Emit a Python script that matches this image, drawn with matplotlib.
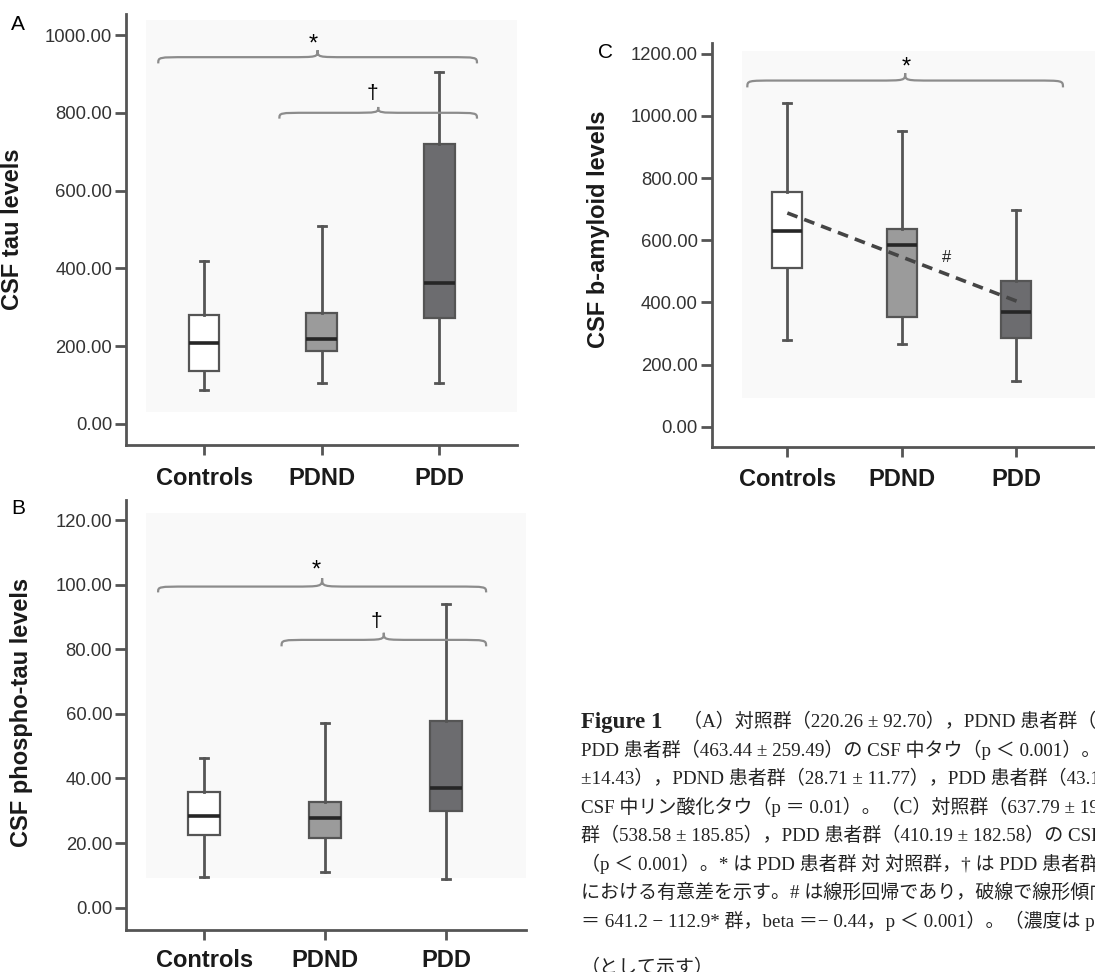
import matplotlib
matplotlib.use("Agg")
import matplotlib.pyplot as plt
from matplotlib.path import Path
from matplotlib.patches import PathPatch, Rectangle

# データ
groups = ['Controls', 'PDND', 'PDD']
box_colors = ['#ffffff', '#9b9b9b', '#6c6c6f']

tau_lo = [88, 105, 105]
tau_q1 = [137, 188, 272]
tau_med = [209, 218, 363]
tau_q3 = [280, 286, 720]
tau_hi = [419, 509, 904]

ptau_lo = [9.6, 11.0, 8.9]
ptau_q1 = [22.5, 21.7, 30.0]
ptau_med = [28.5, 27.9, 37.0]
ptau_q3 = [35.7, 32.8, 57.9]
ptau_hi = [46.4, 57.1, 93.9]

amy_lo = [279, 268, 148]
amy_q1 = [510, 352, 285]
amy_med = [630, 585, 370]
amy_q3 = [755, 635, 470]
amy_hi = [1043, 952, 697]

reg_x = [1.0, 3.05]
reg_y = [688, 398]

caption_lines = [
    "PDD 患者群（463.44 ± 259.49）の CSF 中タウ（p ＜ 0.001）。（B）対照群（29.41",
    "±14.43），PDND 患者群（28.71 ± 11.77），PDD 患者群（43.10 ± 21.09）の",
    "CSF 中リン酸化タウ（p ＝ 0.01）。（C）対照群（637.79 ± 196.23），PDND 患者",
    "群（538.58 ± 185.85），PDD 患者群（410.19 ± 182.58）の CSF 中 b-アミロイド",
    "（p ＜ 0.001）。* は PDD 患者群 対 対照群，† は PDD 患者群 対 PDND 患者群",
    "における有意差を示す。# は線形回帰であり，破線で線形傾向を示す（濃度",
    "＝ 641.2 − 112.9* 群，beta ＝− 0.44，p ＜ 0.001）。（濃度は pg/mL",
]
caption_last = "（として示す）"

SANS = ['Liberation Sans', 'DejaVu Sans']
EDGE = '#555555'

fig = plt.figure(figsize=(10.95, 9.72), dpi=100)


def brace(ax, x0, x1, y, d, w, peak):
    xm = (x0 + x1) / 2
    verts = [(x0, y - d), (x0, y), (x0, y), (x0 + w, y),
             (xm - w, y),
             (xm, y), (xm, y), (xm, y + peak),
             (xm, y), (xm, y), (xm + w, y),
             (x1 - w, y),
             (x1, y), (x1, y), (x1, y - d)]
    codes = [Path.MOVETO, Path.CURVE4, Path.CURVE4, Path.CURVE4,
             Path.LINETO,
             Path.CURVE4, Path.CURVE4, Path.CURVE4,
             Path.CURVE4, Path.CURVE4, Path.CURVE4,
             Path.LINETO,
             Path.CURVE4, Path.CURVE4, Path.CURVE4]
    ax.add_patch(PathPatch(Path(verts, codes), fill=False, edgecolor='#8c8c8c',
                           lw=1.6, clip_on=False, zorder=4))


def panel(rect, lo, q1, med, q3, hi, ylim, yticks, xlim, ylabel, label_xy, shade, xpad=8):
    ax = fig.add_axes(rect)
    ax.add_patch(Rectangle((shade[0], shade[1]), shade[2], shade[3], transform=ax.transAxes,
                           facecolor='#f9f9f9', edgecolor='none', zorder=0))
    stats = []
    for i in range(3):
        stats.append(dict(whislo=lo[i], q1=q1[i], med=med[i], q3=q3[i], whishi=hi[i], fliers=[]))
    bp = ax.bxp(stats, positions=[1, 2, 3], widths=0.26, patch_artist=True, showfliers=False,
                capwidths=0.07,
                boxprops=dict(edgecolor=EDGE, linewidth=1.6),
                medianprops=dict(color='#262626', linewidth=2.6),
                whiskerprops=dict(color=EDGE, linewidth=2),
                capprops=dict(color=EDGE, linewidth=2))
    for patch, c in zip(bp['boxes'], box_colors):
        patch.set_facecolor(c)
        patch.set_zorder(2)
    ax.set_ylim(*ylim)
    ax.set_xlim(*xlim)
    ax.set_yticks(yticks)
    ax.set_yticklabels(['%.2f' % v for v in yticks], fontsize=13.3, family=SANS, color='#333333')
    ax.set_xticks([1, 2, 3])
    ax.set_xticklabels(groups, fontsize=17, fontweight='bold', family=SANS, color='#1a1a1a')
    ax.tick_params(axis='y', direction='out', length=8, width=2, color=EDGE, pad=2)
    ax.tick_params(axis='x', direction='out', length=7.5, width=2, color=EDGE, pad=xpad)
    for s in ['top', 'right']:
        ax.spines[s].set_visible(False)
    for s in ['left', 'bottom']:
        ax.spines[s].set_color(EDGE)
        ax.spines[s].set_linewidth(2)
    ax.set_facecolor('none')
    ax.set_ylabel(ylabel, fontsize=17, fontweight='bold', family=SANS, color='#1a1a1a')
    ax.yaxis.set_label_coords(*label_xy)
    return ax


# A: CSF tau
axA = panel([0.1151, 0.5422, 0.357, 0.4434], tau_lo, tau_q1, tau_med, tau_q3, tau_hi,
            (-54, 1054), [0, 200, 400, 600, 800, 1000], (0.336, 3.66),
            'CSF tau levels', (-0.26, 0.5), (0.05, 0.077, 1.0, 0.91))
brace(axA, 0.61, 3.32, 943, 16, 0.25, 18)
axA.text(1.93, 975, '*', ha='center', va='center', fontsize=17, family=SANS)
brace(axA, 1.64, 3.32, 800, 15, 0.25, 15)
axA.text(2.43, 850, '†', ha='center', va='center', fontsize=15, family=SANS)

# B: CSF phospho-tau
axB = panel([0.1151, 0.0432, 0.3653, 0.4424], ptau_lo, ptau_q1, ptau_med, ptau_q3, ptau_hi,
            (-6.9, 126.2), [0, 20, 40, 60, 80, 100, 120], (0.355, 3.66),
            'CSF phospho-tau levels', (-0.233, 0.505), (0.05, 0.12, 1.0, 0.85), xpad=6)
brace(axB, 0.62, 3.33, 99.4, 1.8, 0.25, 2.6)
axB.text(1.93, 104.3, '*', ha='center', va='center', fontsize=17, family=SANS)
brace(axB, 1.64, 3.33, 82.9, 2.0, 0.25, 2.2)
axB.text(2.42, 88.5, '†', ha='center', va='center', fontsize=15, family=SANS)

# C: CSF b-amyloid
axC = panel([0.650, 0.5404, 0.3503, 0.4151], amy_lo, amy_q1, amy_med, amy_q3, amy_hi,
            (-64, 1234), [0, 200, 400, 600, 800, 1000, 1200], (0.339, 3.693),
            'CSF b-amyloid levels', (-0.265, 0.54), (0.078, 0.12, 1.0, 0.86))
brace(axC, 0.65, 3.41, 1114, 22, 0.25, 24)
axC.text(2.04, 1155, '*', ha='center', va='center', fontsize=17, family=SANS)
axC.plot(reg_x, reg_y, linestyle=(0, (3, 2)), color='#454545', linewidth=2.6, zorder=5)
axC.text(2.39, 545, '#', ha='center', va='center', fontsize=12, family=SANS, color='#222222')

# パネル記号
fig.text(18 / 1095, 1 - 24 / 972, 'A', fontsize=15, family=SANS, ha='center', va='center')
fig.text(18 / 1095, 1 - 508 / 972, 'B', fontsize=15, family=SANS, ha='center', va='center')
fig.text(606 / 1095, 1 - 52 / 972, 'C', fontsize=15, family=SANS, ha='center', va='center')

# キャプション
CAP = ['Liberation Serif', 'Noto Sans CJK JP']
x0 = 581 / 1095
fig.text(x0, 1 - 722 / 972, 'Figure 1', fontsize=16.5, fontweight='bold', family=CAP,
         ha='left', va='center', color='#222222')
fig.text(683 / 1095, 1 - 722 / 972, '（A）対照群（220.26 ± 92.70），PDND 患者群（255.23',
         fontsize=13.7, family=CAP, ha='left', va='center', color='#222222')
for i, line in enumerate(caption_lines):
    fig.text(x0, 1 - (750.3 + 28.4 * i) / 972, line, fontsize=13.7, family=CAP,
             ha='left', va='center', color='#222222')
fig.text(x0, 1 - 968 / 972, caption_last, fontsize=13.7, family=CAP,
         ha='left', va='center', color='#222222')

fig.savefig('out.png', dpi=100)
